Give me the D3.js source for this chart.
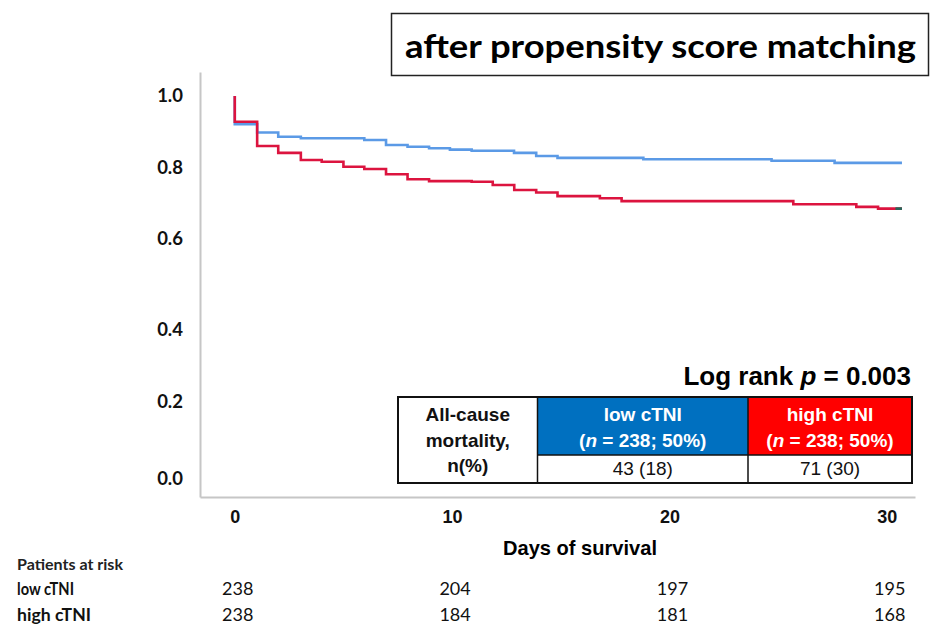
<!DOCTYPE html>
<html>
<head>
<meta charset="utf-8">
<script src="https://cdn.jsdelivr.net/npm/d3@7"></script>
<style>
  body { margin: 0; background: #fff; }
  svg { display: block; }
</style>
</head>
<body>
<div id="chart-area"></div>
<script>
// Kaplan-Meier, after propensity score matching

// survival steps (days, survival)
const lowDays  = [0, 0, 1.03, 2.0, 3.04, 5.96, 6.96, 7.95, 8.94, 9.9, 10.9, 12.85, 13.87, 14.85, 18.8, 24.7, 27.6, 30.7]
const lowSurv  = [1.0, 0.921, 0.898, 0.886, 0.882, 0.877, 0.863, 0.858, 0.854, 0.850, 0.847, 0.841, 0.832, 0.827, 0.823, 0.819, 0.813, 0.813]
const highDays = [0, 0, 1.03, 2.0, 3.04, 4.0, 5.0, 5.96, 6.96, 7.95, 8.94, 10.9, 11.87, 12.86, 13.87, 14.85, 16.8, 17.8, 25.7, 28.6, 29.6, 30.7]
const highSurv = [1.0, 0.928, 0.860, 0.841, 0.821, 0.816, 0.802, 0.796, 0.781, 0.767, 0.762, 0.760, 0.751, 0.737, 0.730, 0.720, 0.714, 0.706, 0.697, 0.690, 0.685, 0.685]
const censorDays = [30.4, 30.7]
const censorSurv = [0.685, 0.685]

const xTicks = [0, 10, 20, 30]
const yTicks = [0, 0.2, 0.4, 0.6, 0.8, 1.0]

// patients at risk
const riskGroups = ["low cTNI", "high cTNI"]
const riskLow  = [238, 204, 197, 195]
const riskHigh = [238, 184, 181, 168]

// mortality table
const tableHead = ["low cTNI", "high cTNI"]
const tableN = [238, 238]
const tablePct = [50, 50]
const deaths = ["43 (18)", "71 (30)"]

const W = 930, H = 624

const svg = d3.select("#chart-area").append("svg")
	.attr("width", W)
	.attr("height", H)

// Scaling (the picture's y axis is not evenly spaced, so a piecewise scale)
const x = d3.scaleLinear()
	.domain([-1.6, 31.3])
	.range([200, 915])
const y = d3.scaleLinear()
	.domain([-0.047, 0, 0.2, 0.4, 0.6, 0.8, 1.0, 1.067])
	.range([497, 479, 402, 330, 239, 167.5, 96, 72])

// Axes
const xAxisCall = d3.axisBottom(x)
	.tickValues(xTicks)
	.tickSize(0)
	.tickPadding(13)
	.tickFormat(d3.format("d"))
const xAxisG = svg.append("g")
	.attr("transform", "translate(0, 497)")
	.call(xAxisCall)
xAxisG.select(".domain").attr("stroke", "#c6c6c6").attr("stroke-width", 2)
xAxisG.selectAll("text")
	.attr("font-family", "'Liberation Sans Narrow', 'Arial Narrow', 'Liberation Sans', sans-serif")
	.attr("font-weight", "bold")
	.attr("font-size", "18px")
	.attr("fill", "#111")

const yAxisCall = d3.axisLeft(y)
	.tickValues(yTicks)
	.tickSize(0)
	.tickPadding(17)
	.tickFormat(d3.format(".1f"))
const yAxisG = svg.append("g")
	.attr("transform", "translate(200, 0)")
	.call(yAxisCall)
yAxisG.select(".domain").attr("stroke", "#c6c6c6").attr("stroke-width", 2)
yAxisG.selectAll("text")
	.attr("font-family", "Lato, sans-serif")
	.attr("font-weight", "bold")
	.attr("font-size", "18.5px")
	.attr("fill", "#111")

// X Label
svg.append("text")
	.attr("x", 580)
	.attr("y", 555)
	.attr("text-anchor", "middle")
	.attr("font-family", "'Liberation Sans Narrow', 'Arial Narrow', 'Liberation Sans', sans-serif")
	.attr("font-weight", "bold")
	.attr("font-size", "21px")
	.attr("textLength", 154)
	.attr("lengthAdjust", "spacingAndGlyphs")
	.text("Days of survival")

// Curves
const line = d3.line()
	.x(d => x(d[0]))
	.y(d => y(d[1]))
	.curve(d3.curveStepAfter)

svg.append("path")
	.datum(d3.zip(lowDays, lowSurv))
	.attr("fill", "none")
	.attr("stroke", "#5b9ae6")
	.attr("stroke-width", 2.6)
	.attr("d", line)

svg.append("path")
	.datum(d3.zip(highDays, highSurv))
	.attr("fill", "none")
	.attr("stroke", "#dc143f")
	.attr("stroke-width", 2.6)
	.attr("d", line)

svg.append("path")
	.datum(d3.zip(censorDays, censorSurv))
	.attr("fill", "none")
	.attr("stroke", "#1e6a5a")
	.attr("stroke-width", 2.6)
	.attr("d", line)

// Title box
svg.append("rect")
	.attr("x", 391.5).attr("y", 13.5)
	.attr("width", 537).attr("height", 62)
	.attr("fill", "#fff")
	.attr("stroke", "#222")
	.attr("stroke-width", 1.5)
svg.append("text")
	.attr("x", 405)
	.attr("y", 58)
	.attr("font-family", "Lato, sans-serif")
	.attr("font-weight", "bold")
	.attr("font-size", "32px")
	.attr("textLength", 511)
	.attr("lengthAdjust", "spacingAndGlyphs")
	.text("after propensity score matching")

// Log rank
const lr = svg.append("text")
	.attr("x", 911)
	.attr("y", 385)
	.attr("text-anchor", "end")
	.attr("font-family", "'Liberation Sans', Arial, sans-serif")
	.attr("font-weight", "bold")
	.attr("font-size", "26px")
lr.append("tspan").text("Log rank ")
lr.append("tspan").attr("font-style", "italic").text("p")
lr.append("tspan").text(" = 0.003")

// Mortality table
const colX = [398, 537.5, 748, 912]
const rowY = [397, 455, 483]
const tFont = "'Liberation Sans', Arial, sans-serif"
const fills = ["#0070c0", "#ff0000"]

const tg = svg.append("g")
tableHead.forEach((h, i) => {
	tg.append("rect")
		.attr("x", colX[i + 1]).attr("y", rowY[0])
		.attr("width", colX[i + 2] - colX[i + 1]).attr("height", rowY[1] - rowY[0])
		.attr("fill", fills[i])
	const cx = (colX[i + 1] + colX[i + 2]) / 2
	tg.append("text")
		.attr("x", cx).attr("y", 421)
		.attr("text-anchor", "middle")
		.attr("font-family", tFont).attr("font-weight", "bold").attr("font-size", "19px")
		.attr("fill", "#fff")
		.text(h)
	const t2 = tg.append("text")
		.attr("x", cx).attr("y", 446.5)
		.attr("text-anchor", "middle")
		.attr("font-family", tFont).attr("font-weight", "bold").attr("font-size", "19px")
		.attr("fill", "#fff")
	t2.append("tspan").text("(")
	t2.append("tspan").attr("font-style", "italic").text("n")
	t2.append("tspan").text(` = ${tableN[i]}; ${tablePct[i]}%)`)
	tg.append("text")
		.attr("x", cx).attr("y", 475)
		.attr("text-anchor", "middle")
		.attr("font-family", tFont).attr("font-size", "19px")
		.attr("fill", "#111")
		.text(deaths[i])
})
;["All-cause", "mortality,", "n(%)"].forEach((s, i) => {
	tg.append("text")
		.attr("x", (colX[0] + colX[1]) / 2).attr("y", 421 + i * 25.5)
		.attr("text-anchor", "middle")
		.attr("font-family", tFont).attr("font-weight", "bold").attr("font-size", "19px")
		.attr("fill", "#111")
		.text(s)
})
// grid lines
tg.append("rect")
	.attr("x", colX[0]).attr("y", rowY[0])
	.attr("width", colX[3] - colX[0]).attr("height", rowY[2] - rowY[0])
	.attr("fill", "none").attr("stroke", "#111").attr("stroke-width", 2)
colX.slice(1, 3).forEach(cx => {
	tg.append("line")
		.attr("x1", cx).attr("x2", cx).attr("y1", rowY[0]).attr("y2", rowY[2])
		.attr("stroke", "#111").attr("stroke-width", 1.5)
})
tg.append("line")
	.attr("x1", colX[1]).attr("x2", colX[3]).attr("y1", rowY[1]).attr("y2", rowY[1])
	.attr("stroke", "#111").attr("stroke-width", 1.5)

// Patients at risk
svg.append("text")
	.attr("x", 17).attr("y", 570)
	.attr("font-family", "Lato, sans-serif").attr("font-weight", "bold").attr("font-size", "15px")
	.attr("fill", "#222")
	.attr("textLength", 106)
	.attr("lengthAdjust", "spacingAndGlyphs")
	.text("Patients at risk")

const riskRows = [riskLow, riskHigh]
riskRows.forEach((vals, r) => {
	const yy = 595 + r * 25.5
	svg.append("text")
		.attr("x", 17).attr("y", yy)
		.attr("font-family", "Lato, sans-serif").attr("font-weight", "bold").attr("font-size", "16.5px")
		.attr("fill", "#111")
		.attr("textLength", r === 0 ? 57 : 74)
		.attr("lengthAdjust", "spacingAndGlyphs")
		.text(riskGroups[r])
	svg.selectAll(null)
		.data(vals)
		.enter().append("text")
		.attr("x", (d, i) => x(xTicks[i]) + 3)
		.attr("y", yy)
		.attr("text-anchor", "middle")
		.attr("font-family", "Lato, sans-serif").attr("font-size", "18px")
		.attr("fill", "#111")
		.text(d => d)
})
</script>
</body>
</html>
